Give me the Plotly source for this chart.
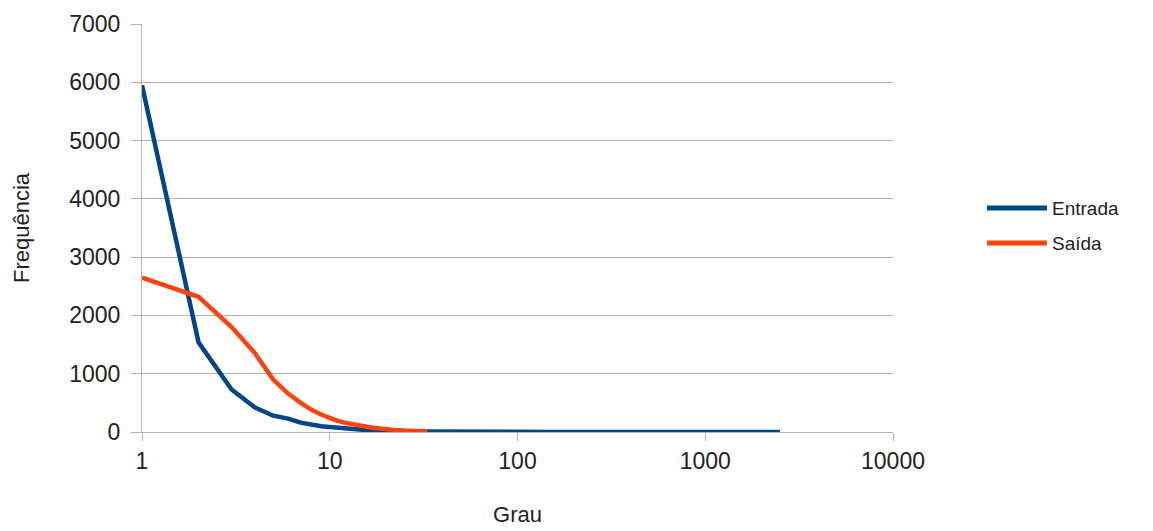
import plotly.graph_objects as go

# Data
entrada_grau = [1, 2, 3, 4, 5, 6, 7, 8, 9, 10, 11, 12, 13, 14, 15, 16, 17, 18, 19, 20,
                22, 25, 30, 35, 40, 50, 60, 80, 100, 150, 300, 600, 1200, 2500]
entrada_freq = [5950, 1540, 730, 420, 280, 230, 160, 120, 100, 85, 70, 60, 50, 45, 38, 33, 28, 25, 22, 20,
                16, 12, 8, 6, 5, 3, 2, 2, 1, 1, 1, 1, 1, 1]

saida_grau = [1, 2, 3, 4, 5, 6, 7, 8, 9, 10, 11, 12, 13, 14, 15, 16, 17, 18, 19, 20,
              22, 25, 28, 30, 33]
saida_freq = [2650, 2320, 1800, 1350, 900, 660, 500, 380, 300, 240, 190, 160, 135, 115, 100, 85, 72, 62, 54, 47,
              36, 25, 18, 14, 10]

series_names = ["Entrada", "Saída"]
x_ticks = [1, 10, 100, 1000, 10000]
y_ticks = [0, 1000, 2000, 3000, 4000, 5000, 6000, 7000]

BLUE = "#004586"
ORANGE = "#ff420e"
FONT = "Liberation Sans"
TEXT = "#222222"

fig = go.Figure()
fig.add_trace(go.Scatter(x=entrada_grau, y=entrada_freq, mode="lines", name=series_names[0],
                         line=dict(color=BLUE, width=4.5)))
fig.add_trace(go.Scatter(x=saida_grau, y=saida_freq, mode="lines", name=series_names[1],
                         line=dict(color=ORANGE, width=4.5)))

# Manual legend (to match the long line samples and spacing of the reference)
legend_y = [0.549, 0.463]
for name, color, yy in zip(series_names, [BLUE, ORANGE], legend_y):
    fig.add_shape(type="line", xref="paper", yref="paper",
                  x0=1.1252, x1=1.2051, y0=yy, y1=yy,
                  line=dict(color=color, width=5))
    fig.add_annotation(xref="paper", yref="paper", x=1.2091, y=yy, text=name,
                       showarrow=False, xanchor="left", yanchor="middle",
                       font=dict(family=FONT, size=19, color=TEXT))

fig.update_layout(
    width=1153, height=531,
    margin=dict(l=142, r=260, t=24, b=99),
    paper_bgcolor="white", plot_bgcolor="white",
    font=dict(family=FONT, size=23, color=TEXT),
    showlegend=False,
)
fig.update_xaxes(
    type="log", range=[0, 4], tickvals=x_ticks, ticktext=[str(v) for v in x_ticks],
    showgrid=False, zeroline=False, automargin=False,
    showline=True, linecolor="#b3b3b3", linewidth=1,
    ticks="outside", ticklen=8, tickcolor="#b3b3b3",
    tickfont=dict(size=23),
    title=dict(text="Grau", font=dict(size=22), standoff=34),
)
fig.update_yaxes(
    range=[0, 7000], tickvals=y_ticks, automargin=False,
    showgrid=True, gridcolor="#b3b3b3", gridwidth=1, zeroline=False,
    showline=True, linecolor="#b3b3b3", linewidth=1,
    ticks="outside", ticklen=10, tickcolor="#b3b3b3",
    tickfont=dict(size=23), ticklabelstandoff=6,
    title=dict(text="Frequência", font=dict(size=22), standoff=33),
)

fig.write_html("out.html")
